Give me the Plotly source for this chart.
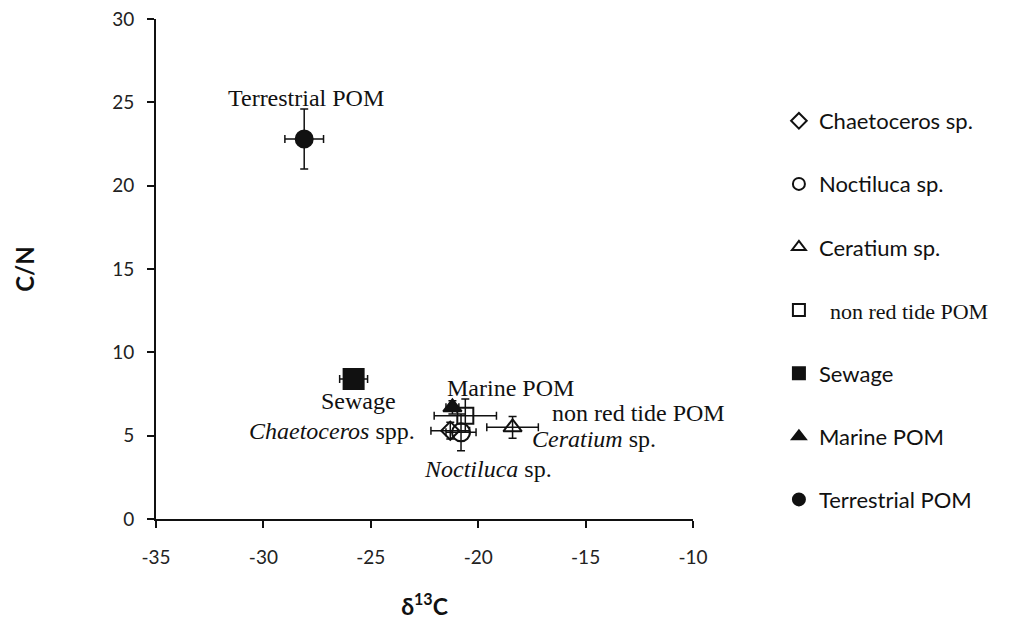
import plotly.graph_objects as go

# ---- data ----
names = ["Chaetoceros sp.", "Noctiluca sp.", "Ceratium sp.", "non red tide POM",
         "Sewage", "Marine POM", "Terrestrial POM"]
d13c = [-21.3, -20.8, -18.4, -20.6, -25.8, -21.2, -28.1]
cn = [5.3, 5.2, 5.5, 6.2, 8.4, 6.7, 22.8]
d13c_err = [0.9, 0.7, 1.2, 1.45, 0.65, 0.3, 0.9]
cn_err = [0.5, 1.1, 0.65, 1.0, 0.2, 0.4, 1.8]
symbols = ["diamond-open", "circle-open", "triangle-up-open", "square-open",
           "square", "triangle-up", "circle"]
sizes = [14, 18, 16, 16, 20, 16, 17]

x_ticks = [-35, -30, -25, -20, -15, -10]
x_ticklabels = ["-35", "-30", "-25", "-20", "-15", "-10"]
y_ticks = [0, 5, 10, 15, 20, 25, 30]
y_ticklabels = ["0", "5", "10", "15", "20", "25", "30"]

# in-plot labels (text, x, y)
label_text = ["Terrestrial POM", "Sewage", "Marine POM", "non red tide POM",
              "<i>Chaetoceros</i> spp.", "<i>Ceratium</i> sp.", "<i>Noctiluca</i> sp."]
label_x = [-28.0, -25.55, -18.5, -12.56, -26.8, -14.6, -19.55]
label_y = [25.25, 7.08, 7.86, 6.36, 5.28, 4.8, 3.0]

SANS = "Lato, 'Open Sans', sans-serif"
SERIF = "'Liberation Serif', 'Times New Roman', serif"

fig = go.Figure()
for i, n in enumerate(names):
    legend_name = n
    if n == "non red tide POM":
        legend_name = "<span style='font-family:Liberation Serif'>  non red tide POM</span>"
    fig.add_trace(go.Scatter(
        x=[d13c[i]], y=[cn[i]], mode="markers", name=legend_name,
        legendgroup=n,
        marker=dict(symbol=symbols[i], size=sizes[i], color="#111111",
                    line=dict(color="#111111", width=2)),
        error_x=dict(type="data", array=[d13c_err[i]], color="#111111", thickness=1.5, width=4),
        error_y=dict(type="data", array=[cn_err[i]], color="#111111", thickness=1.5, width=4),
    ))

for t, x, y in zip(label_text, label_x, label_y):
    fig.add_annotation(x=x, y=y, text=t, showarrow=False,
                       font=dict(family=SERIF, size=24, color="#111111"))

fig.update_layout(
    width=1035, height=638,
    paper_bgcolor="white", plot_bgcolor="white",
    margin=dict(l=148, r=350, t=11, b=127, autoexpand=False),
    showlegend=True,
    legend=dict(x=1.16, y=0.838, xanchor="left", yanchor="top",
                font=dict(family=SANS, size=22, color="#111111"),
                tracegroupgap=31.5, itemsizing="constant", itemwidth=30,
                bgcolor="rgba(0,0,0,0)", traceorder="grouped"),
    xaxis=dict(range=[-35, -10], tickvals=x_ticks, ticktext=x_ticklabels,
               showgrid=False, zeroline=False, automargin=False,
               showline=True, linecolor="#111111", linewidth=2,
               ticks="outside", ticklen=7, tickwidth=1.5, tickcolor="#111111",
               ticklabeloverflow="allow", ticklabelstandoff=13,
               tickfont=dict(family=SANS, size=19, color="#222222"),
               title=dict(text="<b>δ<sup>13</sup>C</b>", standoff=32,
                          font=dict(family=SANS, size=23, color="#111111"))),
    yaxis=dict(range=[0, 30], tickvals=y_ticks, ticktext=y_ticklabels,
               showgrid=False, zeroline=False, automargin=False,
               showline=True, linecolor="#111111", linewidth=2,
               ticks="outside", ticklen=7, tickwidth=1.5, tickcolor="#111111",
               ticklabeloverflow="allow", ticklabelstandoff=9,
               tickfont=dict(family=SANS, size=19, color="#222222"),
               title=dict(text="<b>C/N</b>", standoff=71,
                          font=dict(family=SANS, size=24, color="#111111"))),
)

fig.write_html("out.html")
